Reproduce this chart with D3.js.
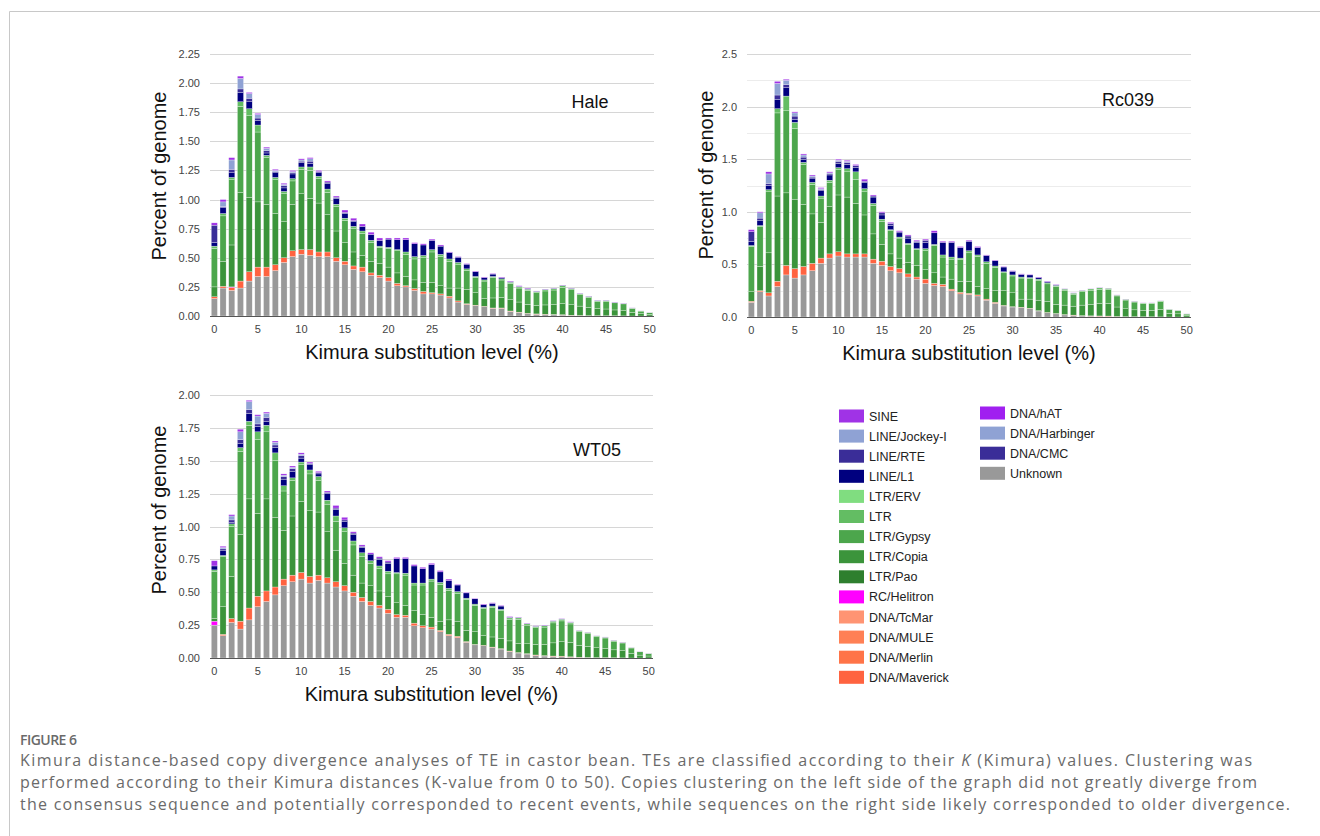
<!DOCTYPE html>
<html>
<head>
<meta charset="utf-8">
<script src="https://cdn.jsdelivr.net/npm/d3@7/dist/d3.min.js"></script>
<style>
  body { margin: 0; background: #fff; }
  svg text { font-family: Arial, "Liberation Sans", sans-serif; }
  svg text.caption { font-family: "Open Sans", "Noto Sans", sans-serif; }
</style>
</head>
<body>
<svg id="fig" width="1320" height="836"></svg>
<script>
// Kimura substitution level (%) categories
const kimura = [0,1,2,3,4,5,6,7,8,9,10,11,12,13,14,15,16,17,18,19,20,21,22,23,24,25,
  26,27,28,29,30,31,32,33,34,35,36,37,38,39,40,41,42,43,44,45,46,47,48,49,50];
const xTicks = [0, 5, 10, 15, 20, 25, 30, 35, 40, 45, 50];
const haleTicks = [0, 0.25, 0.5, 0.75, 1, 1.25, 1.5, 1.75, 2, 2.25];
const rcTicks = [0, 0.5, 1, 1.5, 2, 2.5];
const rcMinor = [0.25, 0.75, 1.25, 1.75, 2.25];
const wtTicks = [0, 0.25, 0.5, 0.75, 1, 1.25, 1.5, 1.75, 2];

// legend (as drawn) and colours
const teClasses = ['SINE', 'LINE/Jockey-I', 'LINE/RTE', 'LINE/L1', 'LTR/ERV', 'LTR', 'LTR/Gypsy',
  'LTR/Copia', 'LTR/Pao', 'RC/Helitron', 'DNA/TcMar', 'DNA/MULE', 'DNA/Merlin', 'DNA/Maverick',
  'DNA/hAT', 'DNA/Harbinger', 'DNA/CMC', 'Unknown'];
const teColors = ['#a033e6', '#8fa2d4', '#3a2d98', '#00007f', '#80dd80', '#63bd63', '#4ca64c',
  '#3b943b', '#2e7f2e', '#ff00ff', '#ff9473', '#ff8055', '#ff7448', '#ff6340',
  '#a020f0', '#8fa2d4', '#3a2d98', '#999999'];
// stacking order, bottom to top
const stackOrder = ['Unknown', 'DNA/Maverick', 'RC/Helitron', 'LTR/Copia', 'LTR/Gypsy', 'LTR',
  'LINE/L1', 'LINE/RTE', 'LINE/Jockey-I', 'SINE'];

// ---- Hale ----
const haleUnknown = [.15,.24,.22,.24,.30,.34,.34,.39,.46,.51,.53,.52,.51,.51,.47,.44,.40,.38,.35,.33,
  .30,.26,.25,.22,.19,.19,.18,.155,.12,.10,.09,.08,.066,.066,.04,.03,.02,.015,.012,.01,
  .008,.005,.003,.002,.002,.001,.001,.001,0,0,0];
const haleDNA = [.015,.015,.025,.06,.08,.08,.08,.05,.04,.05,.04,.05,.04,.04,.03,.03,.03,.04,.02,.02,
  .03,.02,.01,.015,.02,.01,.01,.015,.01,.005,.003,.003,.003,.003,.003,.003,.003,.003,.003,.003,
  .003,.002,.002,.001,.001,.001,.001,0,0,0,0];
const haleHelitron = [0,0,.005];
const haleCopia = [.085,.215,.36,.76,.64,.56,.54,.44,.31,.40,.48,.44,.42,.32,.23,.16,.12,.10,.10,.10,
  .09,.09,.08,.075,.08,.09,.07,.07,.11,.125,.107,.067,.086,.09,.097,.087,.077,.072,.08,.085,
  .095,.09,.08,.07,.06,.058,.05,.045,.03,.02,.013];
const haleGypsy = [.33,.39,.56,.74,.70,.60,.40,.29,.24,.20,.21,.24,.21,.19,.21,.19,.20,.19,.16,.14,
  .16,.19,.19,.18,.21,.26,.25,.23,.20,.16,.13,.15,.175,.15,.14,.12,.12,.11,.12,.125,
  .14,.128,.098,.087,.064,.067,.061,.058,.035,.022,.015];
const haleLTR = [.02,.02,.02,.04,.06,.06,.02,.02,.02,.02,.02,.03,.02,.03,.02,.02,.02,.02,.02,.01,
  .01,.01,.02,.02,.02,.02,.02,.02,.02,.015,.01,.01,.01,.01,.01,.01,.01,.01,.01,.012,
  .014,.01,.008,.006,.004,.004,.003,.003,.003,.002,.001];
const haleL1 = [.03,.05,.04,.08,.06,.04,.02,.04,.03,.04,.04,.03,.03,.05,.05,.04,.04,.04,.05,.05,
  .07,.085,.105,.11,.09,.08,.07,.055,.045,.04,.04,.02,.02,.01,.005,.005,.005,.003,.003,.003,
  .003,.003,.002,.002,.002,.002,.002,.001,.001,0,0];
const haleRTE = [.15,.01,.03,.03,.03,.02,.02,.01,.02,.01,.01,.02,.01,.01,.01,.01,.01];
const haleJockey = [0,.04,.08,.09,.04,.03,.02,.01,.01,.01,.01,.02];
const haleSINE = [.02,.02,.02,.02,.01,.01,.01,.01,.01,.01,.01,.01,.01,.01,.01,.02,.02,.02,.02,.02,
  .01,.015,.015,.01,.01,.01,.01,.005,.005,.005,.005,.005,.005,.005,.005,.005,.005,.002,.002,.002,
  .002,.002,.002,.002,.002,.002,.002,.002,.001,.001,.001];

// ---- Rc039 ----
const rcUnknown = [.14,.24,.20,.29,.40,.37,.40,.44,.51,.56,.58,.57,.57,.57,.51,.49,.44,.42,.38,.36,
  .32,.30,.29,.25,.22,.215,.20,.16,.13,.105,.095,.09,.08,.057,.04,.03,.02,.015,.01,.008,
  .006,.005,.003,.002,.002,.001,.001,.001,0,0,0];
const rcDNA = [.01,.01,.03,.05,.09,.09,.08,.07,.05,.04,.04,.03,.03,.03,.04,.04,.04,.04,.03,.02,
  .04,.02,.02,.015,.015,.01,.01,.01,.01,.005,.003,.003,.003,.003,.003,.003,.003,.003,.003,.003,
  .004,.004,.002,.001,.001,.001,.001,0,0,0,0];
const rcHelitron = [];
const rcCopia = [.09,.23,.38,.81,.69,.66,.59,.47,.34,.45,.54,.54,.48,.37,.24,.16,.12,.10,.11,.11,
  .09,.10,.07,.095,.105,.115,.08,.10,.11,.14,.132,.077,.087,.10,.107,.087,.09,.085,.10,.11,
  .12,.12,.09,.075,.065,.06,.06,.07,.033,.03,.013];
const rcGypsy = [.43,.38,.58,.79,.78,.67,.38,.28,.23,.23,.24,.24,.23,.22,.27,.22,.22,.19,.17,.15,
  .18,.26,.19,.19,.205,.27,.285,.24,.22,.17,.16,.20,.195,.19,.165,.17,.142,.114,.127,.134,
  .134,.132,.105,.083,.074,.066,.066,.076,.038,.031,.015];
const rcLTR = [.01,.01,.02,.04,.14,.06,.02,.02,.02,.02,.02,.03,.07,.03,.02,.02,.01,.01,.01,.01,
  .02,.01,.02,.02,.015,.02,.015,.015,.015,.01,.01,.01,.01,.01,.01,.01,.01,.01,.012,.012,
  .013,.012,.008,.007,.006,.005,.005,.006,.003,.003,.001];
const rcL1 = [.04,.05,.04,.09,.08,.03,.03,.04,.05,.05,.04,.04,.04,.06,.06,.04,.04,.04,.05,.06,
  .06,.11,.12,.14,.10,.09,.07,.06,.05,.045,.035,.025,.025,.015,.01,.005,.003,.001,.001,.001,
  .001,0,0,0,0,0,0,0,0,0,0];
const rcRTE = [.09,.02,.02,.04,.03,.03,.02,.01,.01,.01,.02,.02,.02,.01,.01,.02,.02,.01,.02,.01,.02];
const rcJockey = [0,.05,.09,.11,.04,.03,.02,.01,.01,.01,.01,.01];
const rcSINE = [.02,.01,.02,.02,.01,.01,.01,.01,.01,.01,.01,.01,.01,.02,.01,.01,.01,.01,.01,.01,
  .01,.02,.01,.01,.01,.01,.01,.005,.005,.005,.005,.005,.005,.005,.005,.005,.002,.002,.002,.002,
  .002,.002,.002,.002,.002,.002,.002,.002,.001,.001,.001];

// ---- WT05 ----
const wtUnknown = [.25,.17,.27,.22,.29,.39,.43,.48,.55,.58,.60,.57,.59,.57,.54,.51,.47,.43,.40,.38,
  .34,.31,.31,.245,.23,.22,.20,.17,.155,.12,.10,.093,.08,.068,.05,.038,.03,.02,.015,.012,
  .01,.006,.004,.003,.002,.002,.001,.001,0,0,0];
const wtDNA = [0,.01,.03,.06,.09,.08,.08,.06,.05,.05,.05,.05,.04,.04,.04,.04,.03,.03,.03,.02,
  .03,.02,.015,.02,.015,.015,.01,.01,.01,.005,.003,.003,.003,.003,.003,.003,.003,.003,.003,.003,
  .004,.003,.002,.001,.001,.001,.001,0,0,0,0];
const wtHelitron = [.03];
const wtCopia = [.02,.21,.32,.66,.83,.63,.70,.53,.37,.45,.54,.50,.48,.35,.24,.17,.13,.11,.12,.11,
  .10,.09,.075,.095,.085,.075,.07,.11,.115,.085,.097,.074,.077,.079,.077,.069,.075,.08,.085,.10,
  .11,.11,.09,.085,.075,.07,.06,.055,.036,.022,.015];
const wtGypsy = [.36,.38,.38,.63,.56,.56,.51,.43,.30,.27,.28,.28,.24,.21,.22,.24,.23,.20,.17,.17,
  .17,.22,.23,.195,.225,.275,.28,.225,.21,.235,.20,.205,.225,.21,.165,.185,.142,.127,.132,.152,
  .158,.14,.104,.096,.083,.079,.066,.058,.04,.025,.018];
const wtLTR = [.01,.01,.02,.03,.03,.06,.05,.06,.04,.02,.02,.03,.03,.03,.04,.03,.03,.03,.02,.02,
  .02,.01,.015,.015,.015,.015,.015,.015,.015,.01,.01,.01,.01,.01,.01,.01,.01,.01,.01,.013,
  .013,.012,.008,.008,.007,.006,.005,.004,.003,.002,.001];
const wtL1 = [.03,.04,.01,.03,.06,.04,.03,.04,.05,.05,.03,.04,.02,.05,.05,.05,.05,.04,.05,.05,
  .06,.105,.11,.13,.11,.11,.08,.06,.05,.04,.04,.02,.02,.025,.005,.002,.002,.002,.002,.002,
  .002,.001,0,0,0,0,0,0,0,0,0];
const wtRTE = [0,.01,.02,.03,.03,.02,.03,.02,.02,.02,.02,.01,.01,.01,.01,.01,.01,.01,0,.01,.01];
const wtJockey = [0,.01,.03,.06,.06,.06,.03,.02,.01,.01,.01];
const wtSINE = [.04,.01,.01,.02,.01,.01,.01,.01,.01,.01,.01,.01,.01,.01,.02,.02,.01,.01,.01,.01,
  .01,.01,.01,.01,.01,.01,.01,.01,.005,.005,.005,.005,.005,.005,.005,.003,.003,.003,.003,.003,
  .003,.003,.002,.002,.002,.002,.002,.002,.001,.001,.001];

const svg = d3.select('#fig');
const colorOf = d3.scaleOrdinal().domain(teClasses).range(teColors);

// outer frame of the figure box
svg.append('line').attr('x1', 9.5).attr('y1', 11.5).attr('x2', 1320).attr('y2', 11.5)
  .attr('stroke', '#c8c8c8');
svg.append('line').attr('x1', 9.5).attr('y1', 11.5).attr('x2', 9.5).attr('y2', 836)
  .attr('stroke', '#c8c8c8');

function drawPanel(p) {
  const x = d3.scaleBand().domain(kimura).range([p.left, p.right])
    .paddingInner(0.3).paddingOuter(0.15);
  const y = d3.scaleLinear().domain([0, p.yMax]).range([p.bottom, p.top]);
  const g = svg.append('g');

  // minor + major gridlines
  g.selectAll('line.minor').data(p.minor || []).join('line')
    .attr('x1', p.left).attr('x2', p.right)
    .attr('y1', (d) => Math.round(y(d)) + 0.5).attr('y2', (d) => Math.round(y(d)) + 0.5)
    .attr('stroke', '#ececec');
  g.selectAll('line.major').data(p.ticks.filter((t) => t > 0)).join('line')
    .attr('x1', p.left).attr('x2', p.right)
    .attr('y1', (d) => Math.round(y(d)) + 0.5).attr('y2', (d) => Math.round(y(d)) + 0.5)
    .attr('stroke', '#d6d6d6');

  const rows = kimura.map((k, i) => {
    const r = { k: k };
    stackOrder.forEach((s) => { r[s] = (p.series[s] && p.series[s][i]) || 0; });
    return r;
  });
  const stacked = d3.stack().keys(stackOrder)(rows);

  g.selectAll('g.layer').data(stacked).join('g')
    .attr('fill', (d) => colorOf(d.key))
    .selectAll('rect').data((d) => d.filter((v) => v[1] - v[0] > 0)).join('rect')
    .attr('x', (d) => x(d.data.k))
    .attr('width', x.bandwidth())
    .attr('y', (d) => y(d[1]))
    .attr('height', (d) => y(d[0]) - y(d[1]))
    .attr('stroke', '#ffffff')
    .attr('stroke-width', 0.4)
    .attr('stroke-opacity', 0.7);

  // baseline
  g.append('line').attr('x1', p.left).attr('x2', p.right)
    .attr('y1', Math.round(y(0)) + 0.5).attr('y2', Math.round(y(0)) + 0.5)
    .attr('stroke', '#555');

  // y tick labels
  g.selectAll('text.ytick').data(p.ticks).join('text')
    .attr('x', p.left - 10).attr('y', (d) => y(d) + 4)
    .attr('text-anchor', 'end').attr('font-size', 11).attr('fill', '#444')
    .text((d) => p.fmt(d));

  // x tick labels
  g.selectAll('text.xtick').data(xTicks).join('text')
    .attr('x', (d) => x(d) + x.bandwidth() / 2).attr('y', p.bottom + 17)
    .attr('text-anchor', 'middle').attr('font-size', 11).attr('fill', '#444')
    .text((d) => d);

  g.append('text')
    .attr('transform', 'translate(' + p.yTitleX + ',' + p.yTitleY + ') rotate(-90)')
    .attr('text-anchor', 'middle').attr('font-size', 20).attr('fill', '#111')
    .text('Percent of genome');

  g.append('text')
    .attr('x', (p.left + p.right) / 2).attr('y', p.bottom + 43)
    .attr('text-anchor', 'middle').attr('font-size', 20).attr('fill', '#111')
    .text('Kimura substitution level (%)');

  g.append('text')
    .attr('x', p.labelX).attr('y', p.labelY)
    .attr('text-anchor', 'middle').attr('font-size', 18).attr('fill', '#111')
    .text(p.name);
}

drawPanel({
  name: 'Hale', left: 210, right: 654, top: 54, bottom: 316, yMax: 2.25,
  ticks: haleTicks, fmt: d3.format('.2f'), yTitleX: 166, yTitleY: 176, labelX: 590, labelY: 108,
  series: {
    'Unknown': haleUnknown, 'DNA/Maverick': haleDNA, 'RC/Helitron': haleHelitron,
    'LTR/Copia': haleCopia, 'LTR/Gypsy': haleGypsy, 'LTR': haleLTR, 'LINE/L1': haleL1,
    'LINE/RTE': haleRTE, 'LINE/Jockey-I': haleJockey, 'SINE': haleSINE
  }
});

drawPanel({
  name: 'Rc039', left: 747, right: 1191, top: 54, bottom: 317, yMax: 2.5,
  ticks: rcTicks, minor: rcMinor, fmt: d3.format('.1f'), yTitleX: 713, yTitleY: 175,
  labelX: 1128, labelY: 106,
  series: {
    'Unknown': rcUnknown, 'DNA/Maverick': rcDNA, 'RC/Helitron': rcHelitron,
    'LTR/Copia': rcCopia, 'LTR/Gypsy': rcGypsy, 'LTR': rcLTR, 'LINE/L1': rcL1,
    'LINE/RTE': rcRTE, 'LINE/Jockey-I': rcJockey, 'SINE': rcSINE
  }
});

drawPanel({
  name: 'WT05', left: 210, right: 653, top: 395, bottom: 658, yMax: 2.0,
  ticks: wtTicks, fmt: d3.format('.2f'), yTitleX: 166, yTitleY: 510, labelX: 597, labelY: 456,
  series: {
    'Unknown': wtUnknown, 'DNA/Maverick': wtDNA, 'RC/Helitron': wtHelitron,
    'LTR/Copia': wtCopia, 'LTR/Gypsy': wtGypsy, 'LTR': wtLTR, 'LINE/L1': wtL1,
    'LINE/RTE': wtRTE, 'LINE/Jockey-I': wtJockey, 'SINE': wtSINE
  }
});

// legend: two columns
const legend = svg.append('g');
legend.selectAll('g.item').data(teClasses).join('g')
  .attr('transform', (d, i) => i < 14
    ? 'translate(839,' + (416 + i * 20.1) + ')'
    : 'translate(980,' + (413 + (i - 14) * 20.1) + ')')
  .each(function (d) {
    const item = d3.select(this);
    item.append('rect').attr('x', 0).attr('y', -6.5).attr('width', 25).attr('height', 13)
      .attr('fill', colorOf(d));
    item.append('text').attr('x', 30).attr('y', 4.5).attr('font-size', 12.5)
      .attr('fill', '#222').text(d);
  });

// caption (line widths matched to the printed figure)
const captionLines = [
  'performed according to their Kimura distances (K-value from 0 to 50). Copies clustering on the left side of the graph did not greatly diverge from',
  'the consensus sequence and potentially corresponded to recent events, while sequences on the right side likely corresponded to older divergence.'
];
const captionWidths = [1237, 1270];
svg.append('text').attr('class', 'caption').attr('x', 20).attr('y', 745)
  .attr('font-size', 14).attr('fill', '#6a6a6a').attr('font-weight', 600)
  .attr('textLength', 57).attr('lengthAdjust', 'spacing').text('FIGURE 6');
const line1 = svg.append('text').attr('class', 'caption').attr('x', 20).attr('y', 766)
  .attr('font-size', 16).attr('fill', '#6a6a6a')
  .attr('textLength', 1232).attr('lengthAdjust', 'spacing');
line1.append('tspan').text('Kimura distance-based copy divergence analyses of TE in castor bean. TEs are classified according to their ');
line1.append('tspan').attr('font-style', 'italic').text('K');
line1.append('tspan').text(' (Kimura) values. Clustering was');
svg.selectAll('text.capline').data(captionLines).join('text')
  .attr('class', 'caption').attr('x', 20).attr('y', (d, i) => 788 + i * 22)
  .attr('font-size', 16).attr('fill', '#6a6a6a')
  .attr('textLength', (d, i) => captionWidths[i]).attr('lengthAdjust', 'spacing')
  .text((d) => d);
</script>
</body>
</html>
